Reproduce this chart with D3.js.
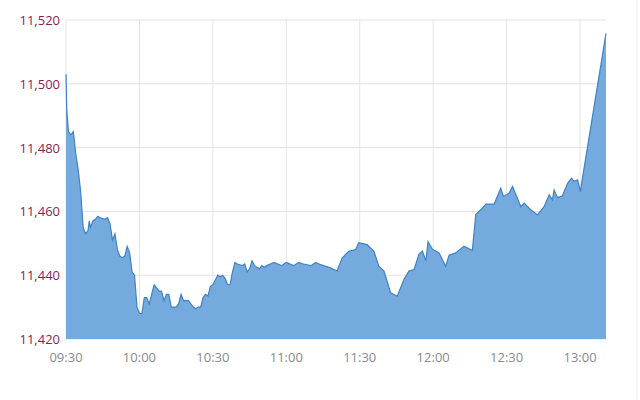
<!DOCTYPE html>
<html><head><meta charset="utf-8">
<script src="https://cdn.jsdelivr.net/npm/d3@7"></script>
<style>body{margin:0;background:#fff}svg{font-family:"Open Sans",sans-serif}</style>
</head><body><div id="chart"></div>
<script>
// minutes after 09:30 and index level
var minutes = [0,0.3,1,2,3,4,5,6,7,8,9,9.5,10,11,12,13,14,16,17,18,19,20,21,22,23,24,25,26,27,28,29,30,31,32,33,34,35,36,37,38,39,40,41,42,43,45,46,47,48,50,51,52,53,54,55,56,57,58,59,60,61,62,63,64,65,66,67,68,69,70,72,73,74,75,76,77,78,79,80,81,82,85,88,90,93,95,97,100,102,104,108,110.7,112.8,115.5,118.3,119.6,123,125.8,127.8,129.9,132.6,135.3,138.1,140.1,142.2,144.2,145.6,147,147.9,149.7,152.4,155.1,156.5,159.2,162.6,166,167.4,170.1,171.5,174.9,177.6,178.7,181,182.4,184.4,185.8,187.2,189.9,192.6,195.3,197.4,198.7,199.4,200.8,202.8,204.9,206.5,207.6,209,210.1,220.6];
var values = [11503,11492,11485,11484,11485,11478,11473,11466,11455,11453,11454,11457,11455,11457,11457.5,11458.5,11458,11457.5,11458,11456,11451,11453,11448,11446,11445.5,11446,11449,11447,11441,11440,11430,11428,11428,11433,11433,11431,11434,11437,11436,11435,11435,11432,11434,11434,11430,11430,11431,11434,11432,11432,11431,11430,11429.5,11430,11430,11433,11434,11433.5,11436.5,11437,11438.5,11440,11439.5,11440,11439,11437,11437,11441,11444,11443.5,11443,11443.5,11441,11442,11444.5,11443,11442.5,11442,11443,11442.5,11443,11444,11443,11444,11443,11444,11443.5,11443,11444,11443.3,11442.3,11441.3,11445.4,11447.5,11448,11450.2,11449.6,11447.5,11442.8,11441.3,11434.5,11433.4,11438.7,11441.3,11441.8,11446.6,11447.6,11444.5,11450.5,11448.1,11447,11442.8,11446.3,11447,11449.1,11447.7,11459,11461,11462.3,11462.3,11467.3,11464.7,11465.7,11467.8,11464.1,11461.5,11462.6,11460.5,11458.9,11461.5,11465.2,11463.6,11466.7,11464.3,11464.9,11468.8,11470.4,11469.4,11469.9,11466.3,11515.8];
var yTicks = [11420,11440,11460,11480,11500,11520];
var xTicks = ["09:30","10:00","10:30","11:00","11:30","12:00","12:30","13:00"];

var width = 640, height = 400;
var margin = {left: 66, right: 34, top: 20, bottom: 61};
var parse = d3.timeParse('%H:%M');
var t0 = parse('09:30');
var data = minutes.map(function (m, i) { return {t: d3.timeMinute.offset(t0, 0) .getTime() + m * 60000, v: values[i]}; });

var x = d3.scaleTime()
	.domain([t0, new Date(t0.getTime() + 220.6 * 60000)])
	.range([margin.left, width - margin.right]);
var y = d3.scaleLinear().domain([11420, 11520]).range([height - margin.bottom, margin.top]);

var svg = d3.select('#chart').append('svg').attr('width', width).attr('height', height);

svg.append('line').attr('x1', 637).attr('x2', 637).attr('y1', 0).attr('y2', height)
	.attr('stroke', '#eee');

// grid
svg.append('g').selectAll('line').data(yTicks).enter().append('line')
	.attr('x1', margin.left).attr('x2', width - margin.right)
	.attr('y1', d => y(d)).attr('y2', d => y(d))
	.attr('stroke', '#ecdce4');
svg.append('g').selectAll('line').data(xTicks).enter().append('line')
	.attr('x1', d => x(parse(d))).attr('x2', d => x(parse(d)))
	.attr('y1', margin.top).attr('y2', height - margin.bottom)
	.attr('stroke', '#e4e4e8');

var area = d3.area()
	.x(d => x(new Date(d.t))).y0(y(11420)).y1(d => y(d.v));
var line = d3.line().x(d => x(new Date(d.t))).y(d => y(d.v));

svg.append('path').datum(data).attr('d', area).attr('fill', '#74aadd');
svg.append('path').datum(data).attr('d', line)
	.attr('fill', 'none').attr('stroke', '#3f83c4').attr('stroke-width', 1.2);

svg.append('g').selectAll('text').data(yTicks).enter().append('text')
	.attr('x', margin.left - 6).attr('y', d => y(d) + 5)
	.attr('text-anchor', 'end').attr('font-size', 13).attr('fill', '#8b1d4f')
	.text(d => d3.format(',')(d));
svg.append('g').selectAll('text').data(xTicks).enter().append('text')
	.attr('x', d => x(parse(d))).attr('y', height - margin.bottom + 23)
	.attr('text-anchor', 'middle').attr('font-size', 13).attr('fill', '#8a8a8a')
	.text(d => d);
</script></body></html>
